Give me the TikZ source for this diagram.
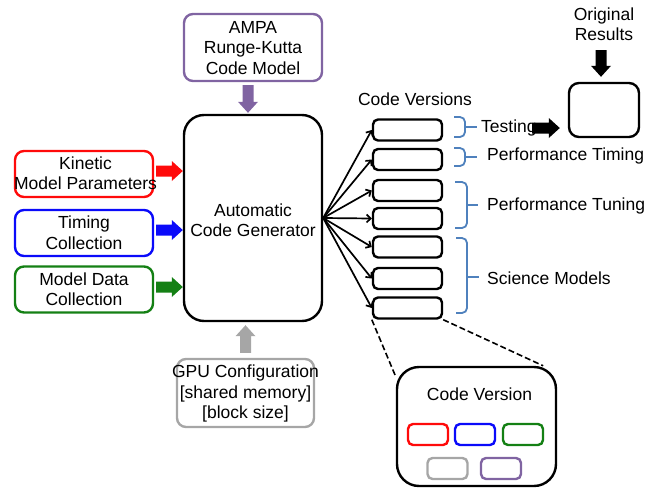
\documentclass[tikz,border=0pt]{standalone}
\usepackage{fontspec}
\setmainfont{Liberation Sans}
\usetikzlibrary{calc,arrows.meta}
\definecolor{cred}{RGB}{255,10,10}
\definecolor{cblue}{RGB}{10,10,250}
\definecolor{cgreen}{RGB}{20,128,20}
\definecolor{cpurple}{RGB}{128,100,162}
\definecolor{cgray}{RGB}{166,166,166}
\definecolor{cbrace}{RGB}{79,129,189}
\newcommand\blockarr[3]{%
  \path ($(#3)!11pt!(#2)$) coordinate (bam);
  \fill[#1] ($(#2)!5.5pt!90:(#3)$) -- ($(bam)!5.5pt!90:(#3)$) -- ($(bam)!10pt!90:(#3)$) -- (#3)
    -- ($(bam)!10pt!-90:(#3)$) -- ($(bam)!5.5pt!-90:(#3)$) -- ($(#2)!5.5pt!-90:(#3)$) -- cycle;}
\tikzset{
  box/.style={draw=#1, line width=2.4pt, rounded corners=9pt, minimum width=138pt, inner sep=0pt},
  txt/.style={align=center, inner sep=0pt, font=\fontsize{17.5}{20.5}\selectfont},
  lbl/.style={anchor=base west, inner sep=0pt, font=\fontsize{17.5}{20.5}\selectfont},
  cv/.style={draw=black, line width=2.4pt, rounded corners=5pt, minimum width=69pt, minimum height=21pt, inner sep=0pt},
  mini/.style={draw=#1, line width=2.4pt, rounded corners=5pt, minimum width=40pt, minimum height=21pt, inner sep=0pt},
  fan/.style={line width=1.7pt, -{Straight Barb[length=4pt,width=8pt]}},
  bracestyle/.style={draw=cbrace, line width=1.8pt, rounded corners=5pt},
  dashline/.style={line width=1.6pt, dash pattern=on 6pt off 3pt},
}
\begin{document}
\begin{tikzpicture}[x=1pt,y=-1pt]
\useasboundingbox (0,0) rectangle (657,488);
% left input boxes
\node[box=cpurple, minimum height=67pt] (ampa) at (253,47.5) {};
\node[txt] (ampat) at (253,48) {AMPA\\Runge-Kutta\\Code Model};
\node[box=black, rounded corners=20pt, minimum height=206pt] (main) at (253,218) {};
\node[txt] (maint) at (253,220) {Automatic\\Code Generator};
\node[box=cred, minimum height=46pt] (kin) at (84,174) {};
\node[txt] (kint) at (85.5,173) {Kinetic\\Model Parameters};
\node[box=cblue, minimum height=46pt] (tim) at (84,233) {};
\node[txt] (timt) at (84,232.5) {Timing\\Collection};
\node[box=cgreen, minimum height=46pt] (mod) at (84,289.5) {};
\node[txt] (modt) at (84,289) {Model Data\\Collection};
\node[box=cgray, minimum width=137pt, minimum height=68pt] (gpu) at (245.5,393) {};
\node[txt] (gput) at (245.5,393.5) {GPU Configuration\\{[}shared memory{]}\\{[}block size{]}};
% block arrows
\coordinate (r1) at ([xshift=2pt,yshift=3pt]kin.east);
\coordinate (r2) at (main.west |- r1);
\blockarr{cred}{r1}{r2}
\coordinate (t1) at ([xshift=2pt,yshift=3pt]tim.east);
\coordinate (t2) at (main.west |- t1);
\blockarr{cblue}{t1}{t2}
\coordinate (g1) at ([xshift=2pt,yshift=2.5pt]mod.east);
\coordinate (g2) at (main.west |- g1);
\blockarr{cgreen}{g1}{g2}
\coordinate (p1) at ([xshift=-5pt,yshift=-3pt]ampa.south);
\coordinate (p2) at ($(main.north -| p1)+(0,-1)$);
\blockarr{cpurple}{p1}{p2}
\coordinate (q1) at ([yshift=5pt]gpu.north);
\coordinate (q2) at ($(main.south -| q1)+(0,3)$);
\blockarr{cgray}{q1}{q2}
% code versions
\node[lbl, anchor=base] (cvl) at (415,105.5) {Code Versions};
\node[cv] (v1) at (407.5,130) {};
\node[cv] (v2) at (407.5,159.5) {};
\node[cv] (v3) at (407.5,190.5) {};
\node[cv] (v4) at (407.5,218.5) {};
\node[cv] (v5) at (407.5,247) {};
\node[cv] (v6) at (407.5,278.5) {};
\node[cv] (v7) at (407.5,308) {};
\foreach \v in {v1,v2,v3,v4,v5,v6,v7} \draw[fan] (main.east) -- (\v.west);
% braces
\draw[bracestyle] (454,117) -| (465,137) -- (454,137);
\draw[bracestyle] (465,127) -- (477,127);
\draw[bracestyle] (454,148) -| (465,166) -- (454,166);
\draw[bracestyle] (465,157) -- (477,157);
\draw[bracestyle] (455,182) -| (467,228) -- (455,228);
\draw[bracestyle] (467,205) -- (478,205);
\draw[bracestyle] (456,238) -| (467,313) -- (456,313);
\draw[bracestyle] (467,277) -- (479,277);
\node[lbl] (test) at (481,132) {Testing};
\node[lbl] (ptim) at (487,160) {Performance Timing};
\node[lbl] (ptun) at (487,210) {Performance Tuning};
\node[lbl] (sci) at (487,284) {Science Models};
% original results
\node[draw=black, line width=2.4pt, rounded corners=10pt, minimum width=70pt, minimum height=54pt, inner sep=0pt] (orig) at (604,110) {};
\node[txt] (origt) at (604,24) {Original\\Results};
\coordinate (k1) at (532,128);
\coordinate (k2) at ($(orig.west |- k1)+(-8,0)$);
\blockarr{black}{k1}{k2}
\coordinate (d1) at (601,50);
\coordinate (d2) at ($(orig.north -| d1)+(0,-5)$);
\blockarr{black}{d1}{d2}
% zoomed code version
\node[draw=black, line width=2.4pt, rounded corners=22pt, minimum width=159pt, minimum height=119pt, inner sep=0pt] (big) at (476.5,426.5) {};
\node[lbl, anchor=base] (bigt) at (479.5,400.7) {Code Version};
\node[mini=cred] (m1) at (428,434.5) {};
\node[mini=cblue] (m2) at (475,434.5) {};
\node[mini=cgreen] (m3) at (523,434.5) {};
\node[mini=cgray] (m4) at (447.5,468.5) {};
\node[mini=cpurple] (m5) at (501,468.5) {};
\draw[dashline] (v7.south west) -- ([yshift=-11pt]big.north west);
\draw[dashline] (v7.south east) -- ([xshift=-14pt]big.north east);
\end{tikzpicture}
\end{document}
